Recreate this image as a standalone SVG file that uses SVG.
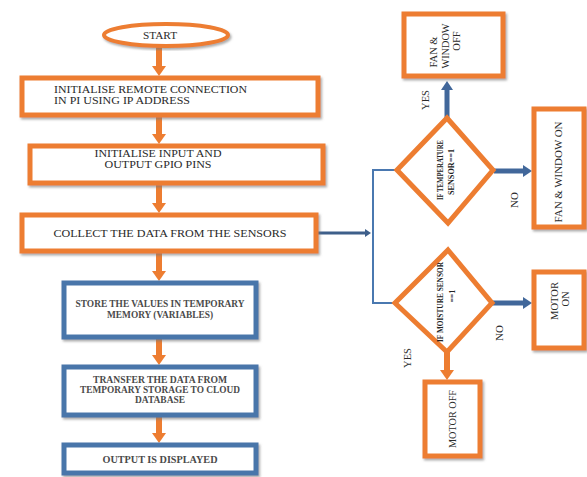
<svg xmlns="http://www.w3.org/2000/svg" width="587" height="477" viewBox="0 0 587 477">
<style>
.ob{fill:#fff;stroke:#ED7D31;stroke-width:5;filter:url(#sh)}
.bb{fill:#fff;stroke:#4A76AA;stroke-width:5;filter:url(#sh)}
.t{font-family:"Liberation Serif",serif;font-size:11px;fill:#2a2a2a}
.tb{font-family:"Liberation Serif",serif;font-size:9.5px;fill:#4a4a4a;font-weight:bold}
.tr{font-family:"Liberation Serif",serif;font-size:10.5px;fill:#2a2a2a}
.td{font-family:"Liberation Serif",serif;font-size:7.5px;fill:#222;font-weight:bold}
.oa{stroke:#ED7D31;stroke-width:6;fill:none;marker-end:url(#ah)}
.ba{stroke:#41679A;stroke-width:5;fill:none;marker-end:url(#bh)}
.bl{stroke:#4A78B0;stroke-width:2;fill:none}
</style>
<defs>
<filter id="sh" x="-10%" y="-10%" width="130%" height="130%">
<feDropShadow dx="1.5" dy="2" stdDeviation="1" flood-color="#777" flood-opacity="0.6"/>
</filter>
<marker id="ah" viewBox="0 0 10 14" refX="3" refY="7" markerWidth="10" markerHeight="14" markerUnits="userSpaceOnUse" orient="auto">
<path d="M0,0 L10,7 L0,14 z" fill="#ED7D31"/>
</marker>
<marker id="bh" viewBox="0 0 9 12" refX="3" refY="6" markerWidth="9" markerHeight="12" markerUnits="userSpaceOnUse" orient="auto">
<path d="M0,0 L9,6 L0,12 z" fill="#41679A"/>
</marker>
<marker id="bs" viewBox="0 0 6 8" refX="2" refY="4" markerWidth="6" markerHeight="8" markerUnits="userSpaceOnUse" orient="auto">
<path d="M0,0 L6,4 L0,8 z" fill="#3E5F8A"/>
</marker>
</defs>

<g id="connectors">
<line class="oa" x1="159" y1="47" x2="159" y2="69"/>
<line class="oa" x1="159" y1="117" x2="159" y2="137"/>
<line class="oa" x1="159" y1="185" x2="159" y2="206"/>
<line class="oa" x1="159" y1="253" x2="159" y2="274"/>
<line class="oa" x1="159" y1="339" x2="159" y2="358"/>
<line class="oa" x1="159" y1="417" x2="159" y2="436"/>
<line x1="318" y1="233" x2="367" y2="233" stroke="#3E5F8A" stroke-width="3" marker-end="url(#bs)"/>
<polyline class="bl" points="397,170 373,170 373,303 395,303"/>
<line class="ba" x1="447" y1="118" x2="447" y2="87"/>
<line class="ba" x1="494" y1="171" x2="526" y2="171"/>
<line class="ba" x1="492" y1="303" x2="526" y2="303"/>
<line class="oa" x1="447" y1="352" x2="447" y2="373"/>
</g>

<g id="start">
<ellipse cx="166" cy="35" rx="62" ry="11" fill="#fff" stroke="#ED7D31" stroke-width="4" filter="url(#sh)"/>
<text class="t" x="160" y="38.5" text-anchor="middle" textLength="34" lengthAdjust="spacingAndGlyphs">START</text>
</g>

<g id="init-remote">
<rect class="ob" x="22" y="78" width="296" height="37"/>
<text class="t" x="54" y="93" textLength="193" lengthAdjust="spacingAndGlyphs">INITIALISE  REMOTE  CONNECTION</text>
<text class="t" x="54" y="104" textLength="136" lengthAdjust="spacingAndGlyphs">IN PI USING  IP ADDRESS</text>
</g>

<g id="init-gpio">
<rect class="ob" x="30" y="146" width="293" height="37"/>
<text class="t" x="158" y="157" text-anchor="middle" textLength="127" lengthAdjust="spacingAndGlyphs">INITIALISE  INPUT AND</text>
<text class="t" x="158" y="168" text-anchor="middle" textLength="107" lengthAdjust="spacingAndGlyphs">OUTPUT  GPIO PINS</text>
</g>

<g id="collect">
<rect class="ob" x="22" y="215" width="294" height="36"/>
<text class="t" x="170" y="237" text-anchor="middle" textLength="233" lengthAdjust="spacingAndGlyphs">COLLECT  THE  DATA FROM  THE  SENSORS</text>
</g>

<g id="store">
<rect class="bb" x="64" y="283" width="192" height="54"/>
<text class="tb" x="160" y="307" text-anchor="middle" textLength="169" lengthAdjust="spacingAndGlyphs">STORE THE VALUES IN TEMPORARY</text>
<text class="tb" x="160" y="318" text-anchor="middle" textLength="106" lengthAdjust="spacingAndGlyphs">MEMORY (VARIABLES)</text>
</g>

<g id="transfer">
<rect class="bb" x="64" y="367" width="192" height="48"/>
<text class="tb" x="160" y="383" text-anchor="middle" textLength="134" lengthAdjust="spacingAndGlyphs">TRANSFER  THE DATA FROM</text>
<text class="tb" x="160" y="393" text-anchor="middle" textLength="160" lengthAdjust="spacingAndGlyphs">TEMPORARY STORAGE TO CLOUD</text>
<text class="tb" x="160" y="403" text-anchor="middle" textLength="50" lengthAdjust="spacingAndGlyphs">DATABASE</text>
</g>

<g id="output">
<rect class="bb" x="64" y="445" width="192" height="28"/>
<text class="tb" x="160" y="463" text-anchor="middle" textLength="115" lengthAdjust="spacingAndGlyphs">OUTPUT IS DISPLAYED</text>
</g>

<g id="temp-decision">
<polygon points="447,118 493,170 448,223 397,170" fill="#fff" stroke="#ED7D31" stroke-width="5"/>
<text class="td" transform="translate(443,170) rotate(-90)" text-anchor="middle" textLength="60" lengthAdjust="spacingAndGlyphs">IF TEMPERATURE</text>
<text class="td" transform="translate(454,172) rotate(-90)" text-anchor="middle" textLength="46" lengthAdjust="spacingAndGlyphs">SENSOR==1</text>
</g>

<g id="fan-off">
<rect class="ob" x="404" y="14" width="99" height="62"/>
<text class="tr" transform="translate(437,52) rotate(-90)" text-anchor="middle">FAN &amp;</text>
<text class="tr" transform="translate(449,46) rotate(-90)" text-anchor="middle" textLength="45" lengthAdjust="spacingAndGlyphs">WINDOW</text>
<text class="tr" transform="translate(460,41) rotate(-90)" text-anchor="middle">OFF</text>
</g>

<g id="fan-on">
<rect class="ob" x="534" y="109" width="50" height="118"/>
<text class="tr" transform="translate(562,172) rotate(-90)" text-anchor="middle" textLength="101" lengthAdjust="spacingAndGlyphs">FAN &amp; WINDOW ON</text>
</g>

<g id="moist-decision">
<polygon points="448,250 492,303 447,352 395,303" fill="#fff" stroke="#ED7D31" stroke-width="5"/>
<text class="td" transform="translate(443,302) rotate(-90)" text-anchor="middle" textLength="80" lengthAdjust="spacingAndGlyphs">IF MOISTURE SENSOR</text>
<text class="td" transform="translate(455,296) rotate(-90)" text-anchor="middle">==1</text>
</g>

<g id="motor-on">
<rect class="ob" x="534" y="272" width="50" height="76"/>
<text class="tr" transform="translate(558,301) rotate(-90)" text-anchor="middle" textLength="38" lengthAdjust="spacingAndGlyphs">MOTOR</text>
<text class="tr" transform="translate(569,299) rotate(-90)" text-anchor="middle">ON</text>
</g>

<g id="motor-off">
<rect class="ob" x="425" y="382" width="55" height="74"/>
<text class="tr" transform="translate(456,419) rotate(-90)" text-anchor="middle" textLength="58" lengthAdjust="spacingAndGlyphs">MOTOR OFF</text>
</g>

<g id="labels">
<text class="tr" transform="translate(429,100) rotate(-90)" text-anchor="middle">YES</text>
<text class="t" transform="translate(518,200) rotate(-90)" text-anchor="middle">NO</text>
<text class="t" transform="translate(503,333) rotate(-90)" text-anchor="middle">NO</text>
<text class="tr" transform="translate(411,358) rotate(-90)" text-anchor="middle">YES</text>
</g>
</svg>
